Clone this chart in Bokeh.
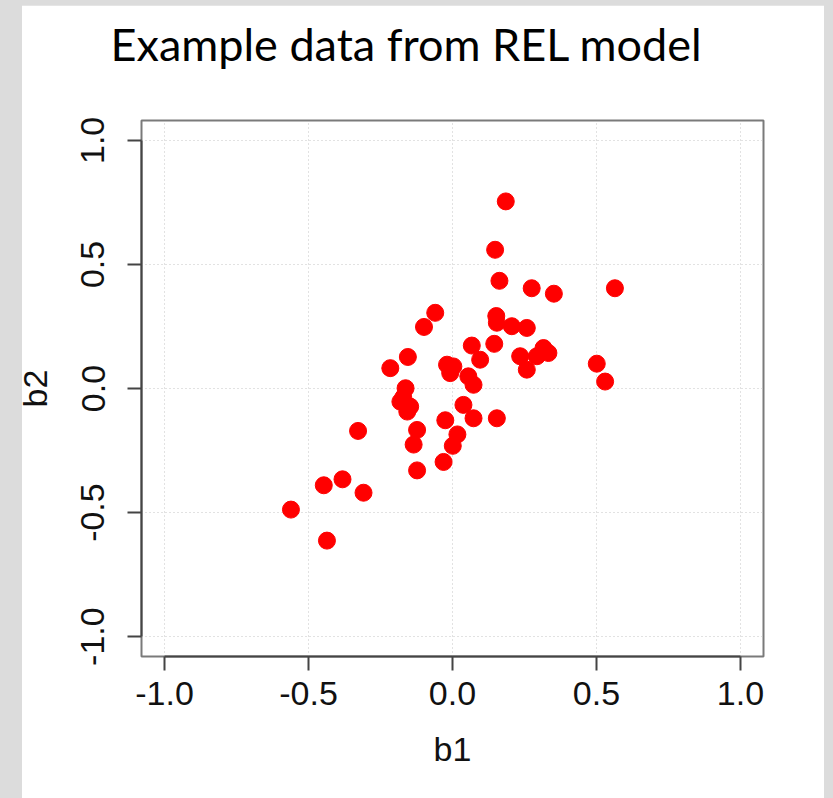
from bokeh.plotting import figure
from bokeh.models import Range1d, FixedTicker, InlineStyleSheet, Title
from bokeh.layouts import column
from bokeh.embed import file_html
from bokeh.resources import INLINE

# Simulated coefficient pairs (b1, b2)
b1 = [0.185, 0.148, 0.163, 0.275, 0.352, 0.564, -0.060, -0.099, 0.152, 0.154,
      0.206, 0.258, 0.067, 0.145, 0.096, -0.155, -0.216, -0.019, 0.003, -0.008,
      0.235, 0.258, 0.293, 0.316, 0.333, 0.501, 0.530, 0.055, 0.073, -0.163,
      -0.181, -0.147, -0.157, -0.171, 0.038, 0.073, 0.154, -0.025, -0.328, -0.123,
      -0.135, 0.017, 0.001, -0.031, -0.123, -0.382, -0.447, -0.309, -0.561, -0.436]
b2 = [0.754, 0.559, 0.434, 0.404, 0.382, 0.404, 0.305, 0.248, 0.292, 0.265,
      0.251, 0.244, 0.173, 0.180, 0.116, 0.127, 0.082, 0.096, 0.089, 0.062,
      0.130, 0.076, 0.130, 0.163, 0.143, 0.100, 0.028, 0.049, 0.015, 0.001,
      -0.053, -0.073, -0.093, -0.036, -0.066, -0.120, -0.120, -0.128, -0.171, -0.167,
      -0.226, -0.185, -0.231, -0.296, -0.330, -0.366, -0.390, -0.420, -0.488, -0.613]

ticks = [-1.0, -0.5, 0.0, 0.5, 1.0]
tick_labels = {-1.0: "-1.0", -0.5: "-0.5", 0.0: "0.0", 0.5: "0.5", 1.0: "1.0"}
title_text = "Example data from REL model"

GRAY = "#dcdcdc"

# grey strip along the left edge of the page, painted over the figure
left_strip = InlineStyleSheet(css=(
    ":host::after { content: ''; position: absolute; left: 0; top: 0; "
    "width: 22px; height: 100%; background-color: " + GRAY + "; "
    "z-index: 1000; pointer-events: none; }"
))

p = figure(width=824, height=793, output_backend="svg", toolbar_location=None,
           x_range=Range1d(-1.08, 1.08), y_range=Range1d(-1.08, 1.08),
           min_border_left=141, min_border_right=61, min_border_top=115,
           min_border_bottom=142, margin=(5, 9, 0, 0),
           background_fill_color="white", border_fill_color="white",
           stylesheets=[left_strip])

# heading: an empty spacer next to the frame, then the text itself
p.title = None
p.add_layout(Title(text=" ", text_font_size="10px", standoff=37), "above")
p.add_layout(Title(text=title_text, align="left", offset=-31, standoff=0,
                   text_font="Lato", text_font_style="normal",
                   text_font_size="45px", text_color="#000000"), "above")

p.outline_line_color = "#7a7a7a"
p.outline_line_width = 2

for ax, lab in ((p.xaxis, "b1"), (p.yaxis, "b2")):
    ax.ticker = FixedTicker(ticks=ticks)
    ax.major_label_overrides = tick_labels
    ax.bounds = (-1.0, 1.0)
    ax.axis_label = lab
    ax.axis_label_text_font = "Liberation Sans"
    ax.axis_label_text_font_style = "normal"
    ax.axis_label_text_font_size = "34px"
    ax.axis_label_text_color = "#111111"
    ax.major_label_text_font = "Liberation Sans"
    ax.major_label_text_font_size = "34px"
    ax.major_label_text_color = "#111111"
    ax.axis_line_color = "#444444"
    ax.axis_line_width = 2
    ax.major_tick_line_color = "#444444"
    ax.major_tick_line_width = 2
    ax.major_tick_out = 14
    ax.major_tick_in = 0
    ax.minor_tick_line_color = None

p.xaxis.major_label_standoff = 11
p.xaxis.axis_label_standoff = 22
p.yaxis.major_label_orientation = "vertical"
p.yaxis.major_label_standoff = 23
p.yaxis.axis_label_standoff = 25

p.grid.ticker = FixedTicker(ticks=ticks)
p.grid.grid_line_color = "#c4c4c4"
p.grid.grid_line_dash = "1 3"
p.grid.grid_line_width = 1

p.scatter(b1, b2, size=17, color="#ff0000", line_color="#ff0000")

root = column(p, styles={"background-color": GRAY}, width=833, height=798)

open("out.html", "w").write(file_html(root, INLINE))
